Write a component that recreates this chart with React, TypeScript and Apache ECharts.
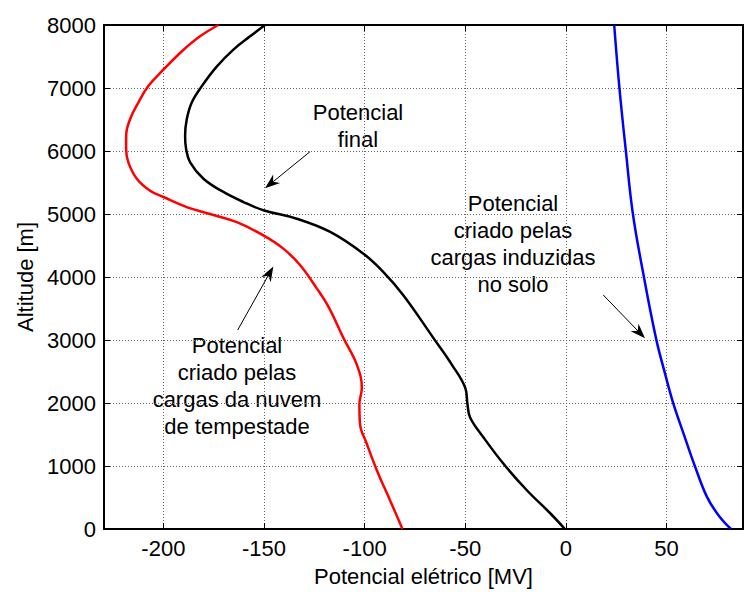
import React, { useEffect, useRef } from "react";
import * as echarts from "echarts";

// Potencial criado pelas cargas da nuvem de tempestade (red)
const altNuvem = [0, 450, 930, 1350, 1670, 1980, 2240, 2610, 3030, 3530, 3820, 4190, 4450, 4660, 4870, 5000, 5110, 5270, 5370, 5560, 5820, 6030, 6240, 6500, 6770, 7030, 7290, 7580, 7820, 8000];
const potNuvem = [-81.2, -87.3, -93.9, -98.9, -102.3, -102.6, -101.4, -103.9, -110.5, -118.0, -123.8, -132.1, -140.4, -150.3, -163.5, -176.8, -188.4, -200, -206.6, -213.2, -217.4, -218.5, -218.5, -216.6, -212.4, -207.5, -200, -190.9, -181.8, -172.7];

// Potencial final (black)
const altFinal = [0, 250, 615, 1035, 1456, 1770, 1980, 2240, 2610, 3030, 3700, 4090, 4370, 4715, 4925, 5060, 5190, 5350, 5560, 5820, 6030, 6240, 6500, 6770, 7030, 7340, 7610, 7820, 8000];
const potFinal = [-0.5, -7.8, -19.4, -31.0, -41.0, -47.6, -48.9, -50.0, -56.7, -65.8, -80.5, -91.0, -100.6, -117.1, -133.7, -150.3, -160.2, -170.2, -180.1, -186.7, -188.7, -189.2, -188.4, -185.9, -180.9, -173.5, -165.2, -156.9, -149.5];

// Potencial criado pelas cargas induzidas no solo (blue)
const altSolo = [0, 220, 510, 980, 1510, 2010, 2450, 3010, 4030, 5000, 6000, 7000, 8000];
const potSolo = [82.0, 75.8, 70.1, 64.3, 58.5, 53.2, 49.4, 44.9, 38.6, 33.3, 29.8, 26.6, 24.0];

const xTicks = [-200, -150, -100, -50, 0, 50];
const xMin = -229.5;
const xMax = 88;
const yMin = 0;
const yMax = 8000;
const yStep = 1000;

const labelFinal = "Potencial\nfinal";
const labelNuvem = "Potencial\ncriado pelas\ncargas da nuvem\nde tempestade";
const labelSolo = "Potencial\ncriado pelas\ncargas induzidas\nno solo";

const FONT = "'Liberation Sans', Arial, sans-serif";
const FS = 22;

function pairs(xs: number[], ys: number[]) {
  return xs.map((x, i) => [x, ys[i]]);
}

function arrow(fx: number, fy: number, tx: number, ty: number) {
  const dx = tx - fx;
  const dy = ty - fy;
  const len = Math.sqrt(dx * dx + dy * dy);
  const ux = dx / len;
  const uy = dy / len;
  const nx = -uy;
  const ny = ux;
  const L = 15;
  const W = 5.5;
  const bx = tx - ux * L;
  const by = ty - uy * L;
  const kx = tx - ux * L * 0.7;
  const ky = ty - uy * L * 0.7;
  return [
    {
      type: "line",
      shape: { x1: fx, y1: fy, x2: kx, y2: ky },
      style: { stroke: "#000", lineWidth: 1 },
      silent: true,
    },
    {
      type: "polygon",
      shape: {
        points: [
          [tx, ty],
          [bx + nx * W, by + ny * W],
          [kx, ky],
          [bx - nx * W, by - ny * W],
        ],
      },
      style: { fill: "#000" },
      silent: true,
    },
  ];
}

function label(text: string, x: number, y: number) {
  return {
    type: "text",
    x,
    y,
    style: {
      text,
      font: `${FS}px ${FONT}`,
      fontSize: FS,
      fontFamily: FONT,
      fill: "#000",
      align: "center",
      verticalAlign: "middle",
      lineHeight: 27,
    },
    silent: true,
  };
}

export default function App() {
  const ref = useRef<HTMLDivElement>(null);

  useEffect(() => {
    if (!ref.current) return;
    const chart = echarts.init(ref.current, undefined, { renderer: "svg" });

    const axisLine = { show: true, onZero: false, lineStyle: { color: "#000", width: 2 } };
    const gridLine = { show: true, lineStyle: { color: "#666", width: 1, type: [1, 2] } };
    const plain = (v: number) => String(v);

    chart.setOption({
      animation: false,
      backgroundColor: "#fff",
      grid: { left: 104, right: 1, top: 25, bottom: 60, containLabel: false },
      xAxis: [
        {
          type: "value",
          position: "bottom",
          min: xMin,
          max: xMax,
          axisLine,
          axisTick: { show: true, inside: true, length: 6, lineStyle: { color: "#000", width: 1 }, customValues: xTicks },
          axisLabel: { show: true, customValues: xTicks, formatter: plain, color: "#000", fontSize: FS, fontFamily: FONT, margin: 8 },
          splitLine: gridLine,
          name: "Potencial elétrico [MV]",
          nameLocation: "middle",
          nameGap: 36,
          nameTextStyle: { color: "#000", fontSize: FS, fontFamily: FONT },
        },
        {
          type: "value",
          position: "top",
          min: xMin,
          max: xMax,
          axisLine,
          axisTick: { show: true, inside: true, length: 6, lineStyle: { color: "#000", width: 1 }, customValues: xTicks },
          axisLabel: { show: false },
          splitLine: { show: false },
        },
      ],
      yAxis: [
        {
          type: "value",
          position: "left",
          min: yMin,
          max: yMax,
          interval: yStep,
          axisLine,
          axisTick: { show: true, inside: true, length: 6, lineStyle: { color: "#000", width: 1 } },
          axisLabel: { show: true, formatter: plain, color: "#000", fontSize: FS, fontFamily: FONT, margin: 8 },
          splitLine: gridLine,
          name: "Altitude [m]",
          nameLocation: "middle",
          nameGap: 66,
          nameRotate: 90,
          nameTextStyle: { color: "#000", fontSize: FS, fontFamily: FONT },
        },
        {
          type: "value",
          position: "right",
          min: yMin,
          max: yMax,
          interval: yStep,
          axisLine,
          axisTick: { show: true, inside: true, length: 6, lineStyle: { color: "#000", width: 1 } },
          axisLabel: { show: false },
          splitLine: { show: false },
        },
      ],
      series: [
        {
          type: "line",
          name: "nuvem",
          xAxisIndex: 0,
          yAxisIndex: 0,
          data: pairs(potNuvem, altNuvem),
          showSymbol: false,
          smooth: 0.4,
          lineStyle: { color: "#ff0000", width: 2.5 },
          silent: true,
        },
        {
          type: "line",
          name: "final",
          xAxisIndex: 0,
          yAxisIndex: 0,
          data: pairs(potFinal, altFinal),
          showSymbol: false,
          smooth: 0.4,
          lineStyle: { color: "#000000", width: 2.5 },
          silent: true,
        },
        {
          type: "line",
          name: "solo",
          xAxisIndex: 0,
          yAxisIndex: 0,
          data: pairs(potSolo, altSolo),
          showSymbol: false,
          smooth: 0.4,
          lineStyle: { color: "#0000ff", width: 2.5 },
          silent: true,
        },
      ],
      graphic: [
        label(labelFinal, 358, 126),
        ...arrow(310, 151.7, 265, 188.3),
        label(labelNuvem, 237, 385.5),
        ...arrow(237.7, 330, 273.3, 266.5),
        label(labelSolo, 513, 243.5),
        ...arrow(603.3, 295, 645, 338.3),
      ],
    });

    return () => {
      chart.dispose();
    };
  }, []);

  return (
    <div
      ref={ref}
      style={{ position: "fixed", left: 0, top: 0, width: 744, height: 592, background: "#fff" }}
    />
  );
}
